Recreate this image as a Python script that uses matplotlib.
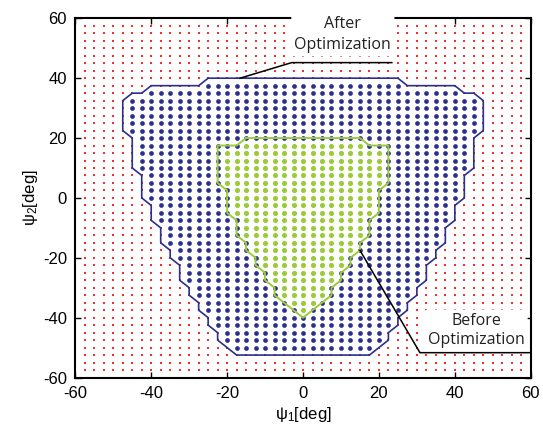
import numpy as np
import matplotlib
matplotlib.use("Agg")
import matplotlib.pyplot as plt
from matplotlib.path import Path

# ---------------- data ----------------
grid_values = np.arange(-60, 60.01, 2.5)          # sampled psi1 / psi2 grid [deg]

# workspace boundary after optimization (vertices, deg)
after_x = [-25, 25, 27.5, 40, 42.5, 45, 47.5, 47.5, 45, 45, 42.5, 42.5, 40, 40, 37.5, 37.5,
           35, 35, 32.5, 32.5, 30, 30, 27.5, 27.5, 25, 25, 22.5, 22.5, 17.5, -17.5, -22.5,
           -22.5, -25, -25, -27.5, -27.5, -30, -30, -32.5, -32.5, -35, -35, -37.5, -37.5,
           -40, -40, -42.5, -42.5, -45, -45, -47.5, -47.5, -45, -42.5, -40, -27.5, -25]
after_y = [40, 40, 37.5, 37.5, 35, 35, 32.5, 22.5, 20, 10, 7.5, 0, -2.5, -7.5, -10, -15,
           -17.5, -20, -22.5, -27.5, -30, -32.5, -35, -37.5, -40, -42.5, -45, -47.5, -52.5,
           -52.5, -47.5, -45, -42.5, -40, -37.5, -35, -32.5, -30, -27.5, -22.5, -20, -17.5,
           -15, -10, -7.5, -2.5, 0, 7.5, 10, 20, 22.5, 32.5, 35, 35, 37.5, 37.5, 40]

# workspace boundary before optimization (vertices, deg)
before_x = [-15, 15, 17.5, 22.5, 22.5, 20, 20, 17.5, 17.5, 15, 15, 12.5, 12.5, 10, 10, 7.5,
            7.5, 5, 0, -5, -7.5, -7.5, -10, -10, -12.5, -12.5, -15, -15, -17.5, -17.5, -20,
            -20, -22.5, -22.5, -17.5, -15]
before_y = [20, 20, 17.5, 17.5, 5, 2.5, -5, -7.5, -12.5, -15, -17.5, -20, -22.5, -25, -27.5,
            -30, -32.5, -35, -40, -35, -32.5, -30, -27.5, -25, -22.5, -20, -17.5, -15, -12.5,
            -7.5, -5, 2.5, 5, 17.5, 17.5, 20]

ticks = [-60, -40, -20, 0, 20, 40, 60]
tick_labels = ["-60", "-40", "-20", "0", "20", "40", "60"]

after_label = "After\nOptimization"
before_label = "Before\nOptimization"
after_leader_x, after_leader_y = [-16.6, -3.0, 23.4], [40.0, 45.2, 45.2]
before_leader_x, before_leader_y = [15.0, 30.8, 59.6], [-17.5, -51.7, -51.7]

# ---------------- helpers ----------------
def strictly_inside(px, py, vx, vy):
    verts = np.column_stack([vx, vy])
    pts = np.column_stack([px, py])
    inside = Path(verts).contains_points(pts)
    on_edge = np.zeros(len(pts), bool)
    for p, q in zip(verts[:-1], verts[1:]):
        d = q - p
        L = (d ** 2).sum()
        t = np.clip(((pts - p) @ d) / L, 0, 1)
        proj = p + t[:, None] * d
        dist = np.hypot(*(pts - proj).T)
        on_edge |= dist < 1e-6
    return inside & ~on_edge

GX, GY = np.meshgrid(grid_values, grid_values)
gx, gy = GX.ravel(), GY.ravel()
in_after = strictly_inside(gx, gy, after_x, after_y)
in_before = strictly_inside(gx, gy, before_x, before_y)

# ---------------- style ----------------
plt.rcParams["font.family"] = ["Liberation Sans", "DejaVu Sans"]
plt.rcParams["axes.unicode_minus"] = False
plt.rcParams["mathtext.fontset"] = "custom"
plt.rcParams["mathtext.rm"] = "Liberation Sans"
plt.rcParams["mathtext.it"] = "Liberation Sans"

BLUE = "#2b2f8e"
GREEN = "#9ccb3a"
RED = "#ff2a2a"

fig = plt.figure(figsize=(5.43, 4.29), dpi=100)
ax = fig.add_axes([0.1387, 0.1200, 0.8387, 0.8373])

ax.plot(gx[~in_after], gy[~in_after], "s", ms=1.6, mew=0, color=RED, zorder=1)
mask_blue = in_after & ~in_before
ax.plot(gx[mask_blue], gy[mask_blue], "o", ms=3.4, mew=0, color=BLUE, zorder=2)
ax.plot(gx[in_before], gy[in_before], "o", ms=3.7, mew=0, color=GREEN, zorder=3)

ax.plot(after_x, after_y, "-", color=BLUE, lw=1.2, zorder=4)
ax.plot(before_x, before_y, "-", color=GREEN, lw=1.4, zorder=5)

box = dict(boxstyle="round,pad=0.2", fc="white", ec="none")
ax.text(10.5, 54.5, after_label, ha="center", va="center", ma="center", fontsize=11.5,
        family=["Open Sans", "DejaVu Sans"], color="#222222", linespacing=1.4,
        bbox=box, zorder=7)
ax.text(45.6, -44.3, before_label, ha="center", va="center", ma="center", fontsize=11.5,
        family=["Open Sans", "DejaVu Sans"], color="#222222", linespacing=1.3,
        bbox=box, zorder=7)

ax.plot(after_leader_x, after_leader_y, "-", color="black", lw=1.1, zorder=8)
ax.plot(before_leader_x, before_leader_y, "-", color="black", lw=1.1, zorder=8)

ax.set_xlim(-60, 60)
ax.set_ylim(-60, 60)
ax.set_xticks(ticks)
ax.set_xticklabels(tick_labels)
ax.set_yticks(ticks)
ax.set_yticklabels(tick_labels)
ax.tick_params(direction="in", top=True, right=True, length=4.5, width=1.0,
               labelsize=12, pad=6, colors="black")
for s in ax.spines.values():
    s.set_linewidth(1.5)
ax.set_xlabel(r"$\mathrm{\psi_1}$[deg]", fontsize=12, labelpad=3)
ax.set_ylabel(r"$\mathrm{\psi_2}$[deg]", fontsize=12, labelpad=2)

fig.savefig("out.png", dpi=100)
